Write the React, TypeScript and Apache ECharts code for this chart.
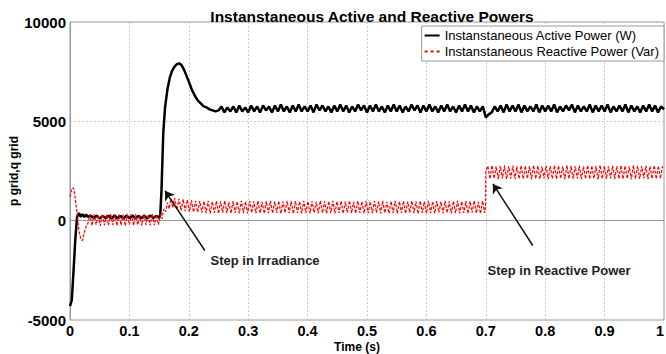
import React, { useEffect, useRef } from "react";
import * as echarts from "echarts";

const TITLE = "Instanstaneous Active and Reactive Powers";
const ACTIVE_NAME = "Instanstaneous Active Power (W)";
const REACTIVE_NAME = "Instanstaneous Reactive Power (Var)";
const X_TICKS = [0, 0.1, 0.2, 0.3, 0.4, 0.5, 0.6, 0.7, 0.8, 0.9, 1];

// ---- Active power (W) ----
const activeStartT = [0, 0.003, 0.006, 0.009, 0.012, 0.015, 0.018, 0.021, 0.024, 0.027, 0.03];
const activeStartV = [-4300, -4000, -2500, -900, 200, 380, 200, 330, 180, 300, 200];
// samples every 0.005 s from 0.035 s to 0.15 s
const activeLow = [250, 120, 260, 100, 240, 130, 250, 110, 260, 120, 240, 100, 250, 130, 260, 110, 240, 120, 250, 100, 260, 130, 240, 150];
const activeRiseT = [0.152, 0.154, 0.157, 0.16, 0.164, 0.168, 0.172, 0.176, 0.18, 0.184, 0.188, 0.192, 0.196, 0.2, 0.205, 0.21, 0.215, 0.22, 0.225, 0.23, 0.235, 0.24, 0.245];
const activeRiseV = [300, 1500, 4400, 5700, 6600, 7200, 7550, 7750, 7880, 7920, 7820, 7600, 7300, 7000, 6600, 6300, 6050, 5900, 5750, 5700, 5600, 5550, 5500];
// samples every 0.005 s from 0.25 s to 1.0 s
const activeSteady = [
  5550, 5750, 5450, 5700, 5500, 5750, 5450, 5800, 5500, 5700,
  5450, 5800, 5500, 5750, 5450, 5800, 5550, 5750, 5450, 5800,
  5500, 5850, 5500, 5750, 5450, 5800, 5500, 5850, 5500, 5750,
  5500, 5800, 5450, 5850, 5550, 5800, 5500, 5750, 5450, 5800,
  5500, 5850, 5500, 5800, 5450, 5750, 5500, 5850, 5550, 5800,
  5450, 5800, 5500, 5850, 5500, 5750, 5450, 5800, 5500, 5850,
  5500, 5800, 5450, 5750, 5500, 5850, 5550, 5800, 5450, 5800,
  5500, 5850, 5500, 5750, 5450, 5800, 5500, 5850, 5500, 5750,
  5450, 5800, 5500, 5850, 5500, 5800, 5450, 5750, 5500, 5750,
  5200, 5350, 5450, 5750, 5500, 5800, 5450, 5850, 5500, 5800,
  5500, 5850, 5450, 5800, 5500, 5750, 5500, 5850, 5450, 5800,
  5500, 5800, 5500, 5850, 5450, 5750, 5500, 5800, 5550, 5850,
  5450, 5800, 5500, 5750, 5500, 5850, 5450, 5800, 5500, 5800,
  5500, 5850, 5450, 5750, 5500, 5800, 5500, 5850, 5450, 5800,
  5500, 5750, 5450, 5800, 5500, 5850, 5500, 5800, 5450, 5750,
  5600,
];

// ---- Reactive power (Var) ----
const reactiveStartT = [0, 0.003, 0.006, 0.009, 0.012, 0.015, 0.018, 0.021, 0.024, 0.027];
const reactiveStartV = [1200, 1600, 1650, 1100, 300, -500, -900, -1000, -600, -300];
// samples every 0.0035 s from 0.03 s
const reactiveLow = [-150, 300, -250, 320, -200, 280, -260, 330, -220, 300, -240, 350, -210, 290, -250, 320, -230, 310, -260, 340, -200, 300, -240, 330, -220, 290, -250, 320, -210, 310, -240, 340, -230, 300, -200];
const reactiveRiseT = [0.152, 0.155, 0.158, 0.161, 0.164, 0.167, 0.17, 0.173, 0.176];
const reactiveRiseV = [300, 100, 600, 450, 900, 600, 1100, 650, 1150];
// samples every 0.0035 s from 0.18 s
const reactiveMid = [
  550, 1100, 500, 1080, 480, 1050, 450, 1020, 430, 1000, 420, 990, 400, 980, 380,
  1000, 370, 960, 390, 990, 360, 970, 400, 1000, 380, 950, 360, 990, 390, 970,
  370, 1000, 380, 960, 360, 990, 400, 970, 370, 1000, 390, 950, 360, 980, 380,
  1000, 370, 970, 390, 990, 360, 960, 400, 1000, 380, 970, 350, 990, 390, 960,
  370, 1000, 380, 970, 360, 990, 400, 960, 370, 1000, 390, 970, 360, 980, 380,
  1000, 370, 960, 390, 990, 360, 970, 400, 1010, 380, 950, 360, 990, 390, 970,
  370, 1000, 380, 960, 360, 990, 400, 970, 370, 1000, 390, 950, 360, 980, 380,
  1000, 370, 970, 390, 990, 360, 960, 400, 1000, 380, 970, 350, 990, 390, 960,
  370, 1000, 380, 970, 360, 990, 400, 960, 370, 1000, 390, 970, 360, 980, 380,
  1000, 370, 960, 390, 990, 360, 970, 400, 1000, 380, 950, 360, 990, 390,
];
const reactiveStepT = [0.6995, 0.7];
const reactiveStepV = [650, 2500];
// samples every 0.0035 s from 0.7035 s
const reactiveHigh = [
  2750, 2100, 2780, 2120, 2740, 2080, 2760, 2110, 2790, 2100, 2750, 2130, 2770, 2090, 2740,
  2110, 2780, 2100, 2760, 2120, 2750, 2080, 2790, 2110, 2760, 2100, 2740, 2130, 2770, 2090,
  2750, 2110, 2780, 2100, 2760, 2120, 2740, 2080, 2790, 2110, 2760, 2100, 2750, 2130, 2770,
  2090, 2740, 2110, 2780, 2100, 2760, 2120, 2750, 2080, 2790, 2110, 2760, 2100, 2740, 2130,
  2770, 2090, 2750, 2110, 2780, 2100, 2760, 2120, 2740, 2080, 2790, 2110, 2760, 2100, 2750,
  2130, 2770, 2090, 2740, 2110, 2780, 2100, 2760, 2120, 2750,
];

// annotations (data coordinates)
const arrowIrr = { from: [0.227, -1500], to: [0.16, 1500], text: "Step in Irradiance", at: [0.2357, -2000] };
const arrowReact = { from: [0.779, -1250], to: [0.712, 1850], text: "Step in Reactive Power", at: [0.702, -2500] };

const pairs = (ts: number[], vs: number[]) => ts.map((t, i) => [t, vs[i]]);
const seg = (t0: number, dt: number, vs: number[]) => vs.map((v, i) => [+(t0 + i * dt).toFixed(5), v]);

const FONT = "'Liberation Sans', Arial, Helvetica, sans-serif";
const SOLID_ICON = "path://M0,0H15V2H0Z";
const DASH_ICON = "path://M0,0H3V2H0Z M6,0H9V2H6Z M12,0H15V2H12Z";

export default function App() {
  const ref = useRef<HTMLDivElement>(null);
  useEffect(() => {
    const chart = echarts.init(ref.current!, null, { renderer: "svg" });
    const activeData = [
      ...pairs(activeStartT, activeStartV),
      ...seg(0.035, 0.005, activeLow),
      ...pairs(activeRiseT, activeRiseV),
      ...seg(0.25, 0.005, activeSteady),
    ];
    const reactiveData = [
      ...pairs(reactiveStartT, reactiveStartV),
      ...seg(0.03, 0.0035, reactiveLow),
      ...pairs(reactiveRiseT, reactiveRiseV),
      ...seg(0.18, 0.0035, reactiveMid),
      ...pairs(reactiveStepT, reactiveStepV),
      ...seg(0.7035, 0.0035, reactiveHigh),
    ];
    const labelStyle = { fontFamily: FONT, fontSize: 13, fontWeight: "bold", color: "#222" };
    chart.setOption({
      animation: false,
      backgroundColor: "#fff",
      title: {
        text: TITLE,
        left: 367,
        textAlign: "center",
        top: 3,
        textStyle: { fontFamily: FONT, fontSize: 15.5, fontWeight: "bold", color: "#000" },
      },
      legend: {
        data: [
          { name: ACTIVE_NAME, icon: SOLID_ICON },
          { name: REACTIVE_NAME, icon: DASH_ICON },
        ],
        orient: "vertical",
        right: 2,
        top: 26,
        padding: [3, 5, 3, 3],
        itemGap: 3,
        itemWidth: 15,
        itemHeight: 2,
        backgroundColor: "#fff",
        borderColor: "#999",
        borderWidth: 1,
        borderRadius: 0,
        textStyle: { fontFamily: FONT, fontSize: 13, color: "#000" },
      },
      grid: {
        left: 70,
        right: 2,
        top: 22,
        bottom: 34,
        show: true,
        borderColor: "#999",
        borderWidth: 1,
        containLabel: false,
        outerBoundsMode: "none",
      },
      xAxis: {
        type: "value",
        min: 0,
        max: 1,
        interval: 0.1,
        name: "Time (s)",
        nameLocation: "middle",
        nameGap: 21,
        nameMoveOverlap: false,
        nameTextStyle: { fontFamily: FONT, fontSize: 12, fontWeight: "bold", color: "#000", padding: [0, 20, 0, 0] },
        axisLine: { show: true, lineStyle: { color: "#999" } },
        axisTick: { show: false },
        axisLabel: {
          fontFamily: FONT,
          fontSize: 14.5,
          fontWeight: "bold",
          color: "#000",
          margin: 3,
          alignMaxLabel: "right",
          formatter: (v: number) => {
            const t = X_TICKS.find((x) => Math.abs(x - v) < 1e-6);
            return t === undefined ? "" : String(t);
          },
        },
        splitLine: { show: true, lineStyle: { color: "#ccc", type: [2, 2] } },
      },
      yAxis: {
        type: "value",
        min: -5000,
        max: 10000,
        interval: 5000,
        name: "p grid,q grid",
        nameLocation: "middle",
        nameGap: 50,
        nameMoveOverlap: false,
        nameTextStyle: { fontFamily: FONT, fontSize: 12, fontWeight: "bold", color: "#000" },
        axisLine: { show: true, lineStyle: { color: "#999" } },
        axisTick: { show: false },
        axisLabel: {
          fontFamily: FONT,
          fontSize: 15,
          fontWeight: "bold",
          color: "#000",
          margin: 4,
          formatter: (v: number) => String(v),
        },
        splitLine: { show: true, lineStyle: { color: "#ccc", type: [2, 2] } },
      },
      series: [
        {
          name: ACTIVE_NAME,
          type: "line",
          data: activeData,
          symbol: "none",
          color: "#000",
          lineStyle: { color: "#000", width: 2.5 },
          z: 2,
          markLine: {
            silent: true,
            symbol: ["none", "arrow"],
            symbolSize: 9,
            label: { show: false },
            lineStyle: { color: "#111", width: 1.5, type: "solid" },
            data: [
              [{ coord: arrowIrr.from }, { coord: arrowIrr.to }],
              [{ coord: arrowReact.from }, { coord: arrowReact.to }],
            ],
          },
          markPoint: {
            silent: true,
            symbol: "rect",
            symbolSize: 1,
            itemStyle: { color: "rgba(0,0,0,0)" },
            data: [
              { coord: arrowIrr.at, label: { show: true, position: "right", distance: 0, formatter: arrowIrr.text, ...labelStyle } },
              { coord: arrowReact.at, label: { show: true, position: "right", distance: 0, formatter: arrowReact.text, ...labelStyle } },
            ],
          },
        },
        {
          name: REACTIVE_NAME,
          type: "line",
          data: reactiveData,
          symbol: "none",
          color: "#ff0000",
          lineStyle: { color: "#ff0000", width: 1.2, type: [3, 1.5] },
          z: 3,
        },
      ],
    });
    return () => chart.dispose();
  }, []);
  return (
    <div
      ref={ref}
      style={{ position: "fixed", left: 0, top: 0, width: 666, height: 354, background: "#fff" }}
    />
  );
}
